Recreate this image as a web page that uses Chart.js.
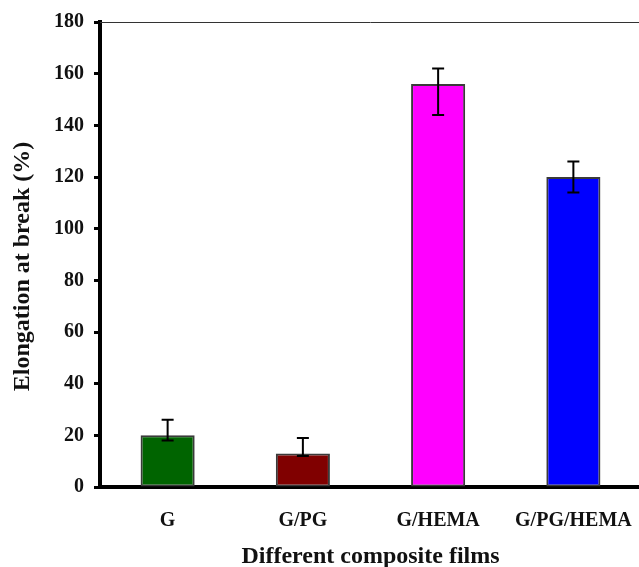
<!DOCTYPE html>
<html>
<head>
<meta charset="utf-8">
<script src="https://cdn.jsdelivr.net/npm/chart.js@4"></script>
<style>
  html, body { margin: 0; padding: 0; background: #fff; }
  #wrap { width: 639px; height: 567px; overflow: hidden; }
</style>
</head>
<body>
<div id="wrap"><canvas id="chart" width="650" height="567"></canvas></div>
<script>
// Datos
const categories = ["G", "G/PG", "G/HEMA", "G/PG/HEMA"];
const elongation = [20, 13, 156, 120];
const errLow = [18, 12, 144, 114];
const errHigh = [26, 19, 162, 126];
const barColors = ["#006400", "#800000", "#ff00ff", "#0000ff"];

const serif = "'Liberation Serif', 'Times New Roman', serif";

// Barras de error dibujadas con las escalas del gráfico
const errorBars = {
  id: "errorBars",
  afterDatasetsDraw(chart) {
    const ctx = chart.ctx;
    const y = chart.scales.y;
    const meta = chart.getDatasetMeta(0);
    ctx.save();
    ctx.strokeStyle = "#000";
    ctx.lineWidth = 2;
    meta.data.forEach((bar, i) => {
      const x = bar.x;
      const top = y.getPixelForValue(errHigh[i]);
      const bot = y.getPixelForValue(errLow[i]);
      ctx.beginPath();
      ctx.moveTo(x, top);
      ctx.lineTo(x, bot);
      ctx.moveTo(x - 6, top);
      ctx.lineTo(x + 6, top);
      ctx.moveTo(x - 6, bot);
      ctx.lineTo(x + 6, bot);
      ctx.stroke();
    });
    ctx.restore();
  }
};

// Línea fina en la parte superior del área
const topLine = {
  id: "topLine",
  afterDraw(chart) {
    const { ctx, chartArea } = chart;
    ctx.save();
    ctx.strokeStyle = "#333";
    ctx.lineWidth = 1;
    ctx.beginPath();
    ctx.moveTo(chartArea.left, chartArea.top + 0.5);
    ctx.lineTo(chartArea.right, chartArea.top + 0.5);
    ctx.stroke();
    ctx.restore();
  }
};

document.addEventListener("DOMContentLoaded", () => {
  const ctx = document.getElementById("chart").getContext("2d");

  new Chart(ctx, {
    type: "bar",
    data: {
      labels: categories,
      datasets: [
        {
          label: "Elongation at break (%)",
          data: elongation,
          backgroundColor: barColors,
          borderColor: "#3a3a3a",
          borderWidth: 2,
          borderSkipped: false,
          barPercentage: 0.4,
          categoryPercentage: 1.0,
        },
      ],
    },
    options: {
      responsive: false,
      animation: false,
      devicePixelRatio: 1,
      layout: { padding: { left: 0, right: 9, top: 21, bottom: 0 } },
      plugins: {
        legend: { display: false },
        tooltip: { enabled: false },
      },
      scales: {
        x: {
          grid: { display: false },
          border: { display: true, color: "#000", width: 4 },
          ticks: {
            color: "#111",
            padding: 14,
            font: { family: serif, size: 20, weight: "bold" },
          },
          title: {
            display: true,
            text: "Different composite films",
            color: "#111",
            padding: { top: 12, bottom: -4 },
            font: { family: serif, size: 24, weight: "bold" },
          },
          afterFit(scale) {
            scale.height = 80;
          },
        },
        y: {
          min: 0,
          max: 180,
          ticks: {
            stepSize: 20,
            color: "#111",
            padding: 10,
            font: { family: serif, size: 20, weight: "bold" },
          },
          grid: {
            drawOnChartArea: false,
            drawTicks: true,
            tickLength: 6,
            tickWidth: 3,
            tickColor: "#000",
          },
          border: { display: true, color: "#000", width: 4 },
          title: {
            display: true,
            text: "Elongation at break (%)\u00a0\u00a0\u00a0\u00a0",
            color: "#111",
            padding: { top: 8, bottom: 0 },
            font: { family: serif, size: 24, weight: "bold" },
          },
          afterFit(scale) {
            scale.width = 100;
          },
        },
      },
    },
    plugins: [errorBars, topLine],
  });
});
</script>
</body>
</html>
